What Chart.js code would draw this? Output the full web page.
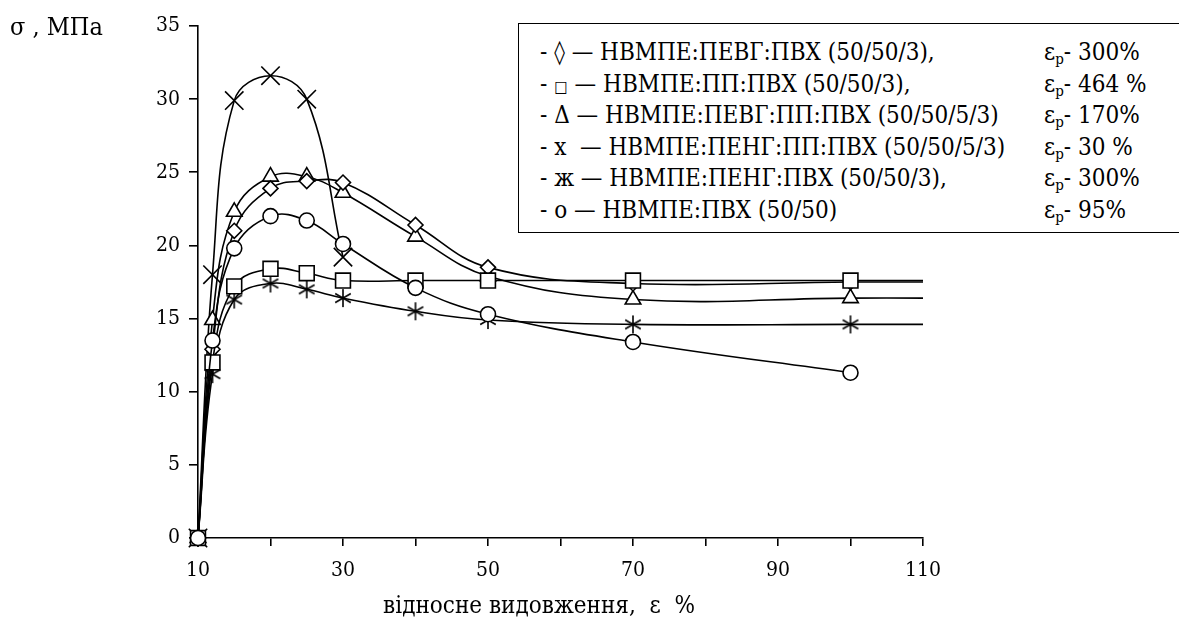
<!DOCTYPE html>
<html>
<head>
<meta charset="utf-8">
<script src="https://cdn.jsdelivr.net/npm/chart.js@4"></script>
<style>
  body { margin: 0; background: #fff; }
  #wrap { position: relative; width: 1179px; height: 617px; font-family: "DejaVu Serif Condensed", "DejaVu Serif", serif; color: #000; }
  #yTitle { position: absolute; left: 10px; top: 10px; font-size: 25px; line-height: 34px; white-space: pre; }
  #xTitle { position: absolute; left: 339px; top: 590px; font-size: 24px; line-height: 30px; white-space: pre; width: 400px; text-align: center; }
  #legendBox { position: absolute; left: 518px; top: 23px; width: 670px; height: 210px; border: 1.5px solid #000; overflow: hidden; background: #fff; box-sizing: border-box; padding-top: 13px; font-size: 24px; }
  .row { position: relative; height: 31.5px; line-height: 31.5px; white-space: pre; }
  .row .name { position: absolute; left: 21px; }
  .row .eps { position: absolute; left: 525px; }
  .row sub { font-size: 15px; vertical-align: -4px; line-height: 0; }
</style>
</head>
<body>
<div id="wrap">
  <canvas id="chart" width="1179" height="617"></canvas>
  <div id="yTitle">σ , МПа</div>
  <div id="xTitle">відносне видовження,  ε  %</div>
  <div id="legendBox"></div>
</div>
<script>
// strain values, %
const strain = [10, 12, 15, 20, 25, 30, 40, 50, 70, 100, 110];

// stress values, MPa (last value at 110 only continues the line to the edge)
const diamondVals  = [0, 12.9, 21.0, 23.9, 24.4, 24.3, 21.4, 18.5, 17.4, 17.5, 17.5];
const squareVals   = [0, 12.0, 17.2, 18.4, 18.1, 17.6, 17.6, 17.6, 17.6, 17.6, 17.6];
const triangleVals = [0, 14.9, 22.3, 24.7, 24.7, 23.6, 20.6, 17.9, 16.3, 16.4, 16.4];
const crossVals    = [0, 18.0, 29.9, 31.6, 30.0, 19.2];
const starVals     = [0, 11.2, 16.3, 17.4, 17.0, 16.4, 15.5, 14.9, 14.6, 14.6, 14.6];
const circleVals   = [0, 13.5, 19.8, 22.0, 21.7, 20.1, 17.1, 15.3, 13.4, 11.3];

// legend texts
const legendMarks = ["◊", "□", "Δ", "x ", "ж", "о"];
const legendNames = [
  "НВМПЕ:ПЕВГ:ПВХ (50/50/3),",
  "НВМПЕ:ПП:ПВХ (50/50/3),",
  "НВМПЕ:ПЕВГ:ПП:ПВХ (50/50/5/3)",
  "НВМПЕ:ПЕНГ:ПП:ПВХ (50/50/5/3)",
  "НВМПЕ:ПЕНГ:ПВХ (50/50/3),",
  "НВМПЕ:ПВХ (50/50)"
];
const breakElong = ["300%", "464 %", "170%", "30 %", "300%", "95%"];

const xTicks = [10, 30, 50, 70, 90, 110];
const serif = '"DejaVu Serif Condensed", "DejaVu Serif", serif';

// build the legend box
const box = document.getElementById('legendBox');
for (let i = 0; i < legendNames.length; i++) {
  const row = document.createElement('div');
  row.className = 'row';
  const mark = legendMarks[i] === "□" ? '<span style="font-size:16px">□</span>' : legendMarks[i];
  row.innerHTML = '<span class="name">- ' + mark + ' — ' + legendNames[i] + '</span>' +
    '<span class="eps">ε<sub>р</sub>- ' + breakElong[i] + '</span>';
  box.appendChild(row);
}

// six-armed asterisk marker
function makeStar() {
  const c = document.createElement('canvas');
  c.width = 22; c.height = 22;
  const g = c.getContext('2d');
  g.strokeStyle = '#000';
  g.lineWidth = 1.6;
  g.beginPath();
  const r = 9;
  [90, 30, 150].forEach(function (a) {
    const t = a * Math.PI / 180;
    g.moveTo(11 - r * Math.cos(t), 11 - r * Math.sin(t));
    g.lineTo(11 + r * Math.cos(t), 11 + r * Math.sin(t));
  });
  g.stroke();
  return c;
}

function pts(vals) {
  return vals.map(function (v, i) { return { x: strain[i], y: v }; });
}

function series(vals, style, radius, order) {
  return {
    data: pts(vals),
    showLine: true,
    borderColor: '#000',
    borderWidth: 1.6,
    backgroundColor: '#fff',
    pointBackgroundColor: '#fff',
    pointBorderColor: '#000',
    pointBorderWidth: 1.6,
    pointStyle: style,
    pointRadius: function (ctx) { return ctx.raw && ctx.raw.x > 100 ? 0 : radius; },
    pointHoverRadius: radius,
    tension: 0.4,
    clip: false,
    order: order
  };
}

new Chart(document.getElementById('chart'), {
  type: 'scatter',
  data: {
    datasets: [
      series(circleVals, 'circle', 7.5, 0),
      series(squareVals, 'rect', 10.5, 1),
      series(diamondVals, 'rectRot', 7.5, 2),
      series(triangleVals, 'triangle', 9, 3),
      series(crossVals, 'crossRot', 13, 4),
      series(starVals, makeStar(), 9, 5)
    ]
  },
  options: {
    responsive: false,
    animation: false,
    devicePixelRatio: 1,
    layout: { padding: { left: 0, top: 26, right: 256, bottom: 0 } },
    plugins: { legend: { display: false }, tooltip: { enabled: false } },
    scales: {
      x: {
        type: 'linear',
        min: 10,
        max: 110,
        afterFit: function (s) { s.height = 79; },
        border: { color: '#000', width: 1.6 },
        grid: { drawOnChartArea: false, drawTicks: true, tickLength: 8, color: '#000', lineWidth: 1.6 },
        ticks: {
          stepSize: 10,
          padding: 12,
          color: '#000',
          maxRotation: 0,
          font: { family: serif, size: 21 },
          callback: function (v) { return xTicks.includes(v) ? v : ''; }
        }
      },
      y: {
        min: 0,
        max: 35,
        afterFit: function (s) { s.width = 198; },
        border: { color: '#000', width: 1.6 },
        grid: { drawOnChartArea: false, drawTicks: true, tickLength: 9, color: '#000', lineWidth: 1.6 },
        ticks: {
          stepSize: 5,
          padding: 9,
          color: '#000',
          font: { family: serif, size: 21 }
        }
      }
    }
  }
});
</script>
</body>
</html>
